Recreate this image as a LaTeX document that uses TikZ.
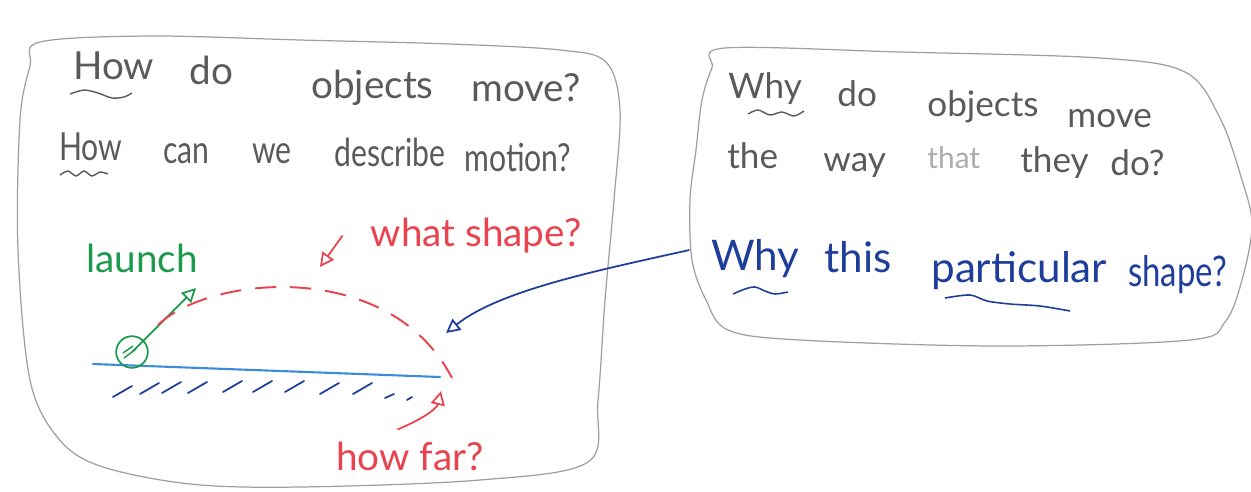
\documentclass[tikz,border=0pt]{standalone}
\usepackage{fontspec}
\setmainfont{Lato}
\newfontfamily\narrowhand{Lato}[FakeStretch=0.78]
\usepackage{xcolor}
\usetikzlibrary{arrows.meta}

\definecolor{pencil}{HTML}{5A5A5A}
\definecolor{penred}{HTML}{E8434F}
\definecolor{pengreen}{HTML}{1C9A4C}
\definecolor{penblue}{HTML}{1F3E9C}
\definecolor{groundblue}{HTML}{3A8CDA}

\begin{document}
\begin{tikzpicture}[x=0.2mm,y=-0.2mm,
                    >={Triangle[open,length=8pt,width=8pt]},
                    bubble/.style={draw=gray!75,line width=0.7pt},
                    hand/.style={inner sep=0pt,anchor=base west,
                                 font=\fontsize{22}{26}\selectfont},
                    pen/.style={line width=1pt,line cap=round}]
  \useasboundingbox (0,0) rectangle (1251,491);

  % the two thought bubbles
  \draw[bubble] plot[smooth cycle,tension=0.55] coordinates
        {(40,42) (150,36) (300,40) (450,44) (560,50) (606,62) (620,110)
         (614,200) (605,300) (598,400) (588,462) (480,480) (300,487)
         (190,484) (100,466) (58,438) (30,380) (18,250) (20,120) (30,66)};
  \draw[bubble] plot[smooth cycle,tension=0.55] coordinates
        {(725,48) (900,52) (1100,58) (1185,72) (1220,118) (1242,180)
         (1252,225) (1242,280) (1225,322) (1190,340) (1000,346) (800,340)
         (728,330) (706,300) (692,260) (690,200) (696,150) (702,100)
         (712,68)};

  % questions, left
  \foreach \w/\wx/\wy [count=\i] in {How/73/79,do/189/84,objects/311/98,
                                     move?/471/101}
    \node[hand,text=pencil] (howmove-\i) at (\wx,\wy) {\w};
  \foreach \w/\wx/\wy [count=\i] in {How/59/160,can/163/163,we/252/163,
                                     describe/334/166,motion?/464/171}
    \node[hand,text=pencil,font=\narrowhand\fontsize{22}{26}\selectfont]
          (howdesc-\i) at (\wx,\wy) {\w};
  \draw[pencil,line width=0.8pt] plot[smooth] coordinates
        {(70,94) (84,90) (98,93) (112,98) (124,97) (132,93)};
  \draw[pencil,line width=0.8pt] plot[smooth] coordinates
        {(60,175) (68,171) (76,176) (84,171) (92,176) (100,172) (108,174)};

  % questions, right
  \foreach \w/\wx/\wy [count=\i] in {Why/728/98,do/837/106,objects/927/116,
                                     move/1067/127}
    \node[hand,text=pencil,font=\fontsize{20}{24}\selectfont]
          (whymove-\i) at (\wx,\wy) {\w};
  \foreach \w/\wx/\wy [count=\i] in {the/727/168,way/823/171,they/1020/172,
                                     do?/1110/175}
    \node[hand,text=pencil,font=\fontsize{20}{24}\selectfont]
          (whyway-\i) at (\wx,\wy) {\w};
  \node[hand,text=gray!65,font=\fontsize{17}{20}\selectfont]
        (whythat) at (927,168) {that};
  \foreach \w/\wx/\wy [count=\i] in {Why/711/270,this/824/272,
                                     particular/931/282}
    \node[hand,text=penblue,font=\fontsize{24}{28}\selectfont]
          (whyshape-\i) at (\wx,\wy) {\w};
  \node[hand,text=penblue,font=\narrowhand\fontsize{24}{28}\selectfont]
        (whyshape-4) at (1128,286) {shape?};
  \draw[pencil,line width=0.8pt] plot[smooth] coordinates
        {(748,114) (758,110) (770,115) (782,112) (794,116) (804,111)};
  \draw[penblue,line width=0.9pt] plot[smooth] coordinates
        {(733,294) (745,289) (755,287) (765,291) (775,294) (788,292)};
  \draw[penblue,line width=0.9pt] plot[smooth] coordinates
        {(945,298) (970,295) (987,301) (1010,304) (1040,306) (1070,311)};

  % the launch
  \draw[groundblue,line width=1.2pt,line cap=round] (93,364) -- (440,377);
  \foreach \hx/\hy in {113/397,140/394,162/393,188/393,223/392,253/392,
                       285/392,320/394,353/394}
    \draw[penblue,pen] (\hx,\hy) -- ++(19,-11);
  \draw[penblue,pen] (385,398) -- ++(9,-4);
  \draw[penblue,pen] (407,400) -- ++(5,-3);

  \node[circle,draw=pengreen,line width=1pt,minimum size=18pt,inner sep=0pt]
        (ball) at (132,352) {};
  \draw[pengreen,line width=0.8pt] (124,358) -- (136,349);
  \draw[pengreen,line width=0.8pt] (123,353) -- (133,346);
  \coordinate (ltip) at (196,288);
  \draw[pengreen,pen,->] (ball.center) -- (ltip);
  \node[inner sep=0pt,text=pengreen,
        font=\fontsize{22}{26}\selectfont] (launch) at (142,258) {launch};

  % the path and what we ask of it
  \draw[penred,line width=1.1pt,dash pattern=on 12pt off 8pt]
        (158,325) .. controls (210,275) and (390,258) .. (452,378);
  \node[inner sep=0pt,text=penred,
        font=\fontsize{22}{26}\selectfont] (whatshape) at (476,236) {what shape?};
  \coordinate (peak) at (320,267);
  \draw[penred,pen,->] ([xshift=-16]whatshape.west) -- (peak);

  \node[inner sep=0pt,text=penred,
        font=\fontsize{22}{26}\selectfont] (howfar) at (410,456) {how far?};
  \coordinate (landing) at (441,391);
  \draw[penred,pen,->] ([shift={(-12,-12)}]howfar.north)
        .. controls (425,418) and (437,408) .. (landing);

  % why the shape
  \coordinate (shapeside) at (446,333);
  \draw[penblue,pen,->] ([shift={(-22,-8)}]whyshape-1.west)
        .. controls (600,270) and (500,290) .. (shapeside);
\end{tikzpicture}
\end{document}
